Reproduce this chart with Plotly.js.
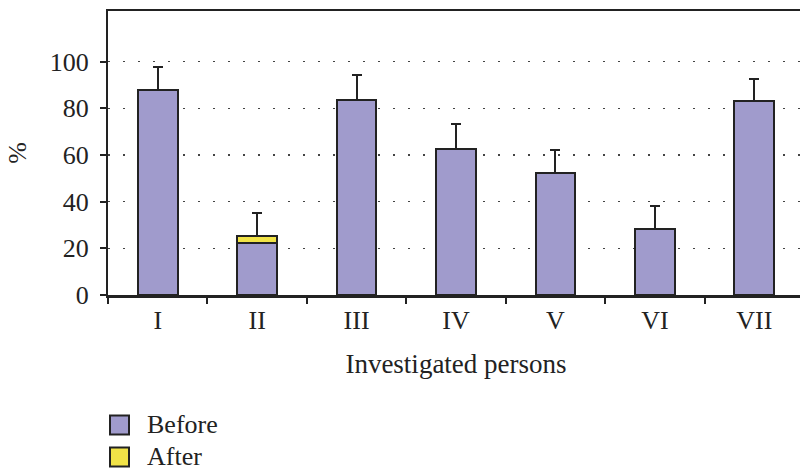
<!DOCTYPE html>
<html>
<head>
<meta charset="utf-8">
<script src="https://cdn.plot.ly/plotly-3.0.1.min.js"></script>
<style>
html,body{margin:0;padding:0;overflow:hidden;background:#fff;}
#chart{width:810px;height:473px;}
</style>
</head>
<body>
<div id="chart"></div>
<script>
var categories = ["I", "II", "III", "IV", "V", "VI", "VII"];
var beforeValues = [87.8, 22.1, 83.4, 62.6, 52.4, 28.1, 83.0];
var afterValues = [null, 3.3, null, null, null, null, null];
var beforeErrors = [10.0, NaN, 10.8, 10.7, 9.7, 10.2, 9.6];
var afterErrors = [NaN, 9.6, NaN, NaN, NaN, NaN, NaN];
var legendLabels = ["Before", "After"];

var purple = "#a09bcc";
var yellow = "#f1e347";
var edge = "#222222";
var fontFam = "Liberation Serif, DejaVu Serif, serif";

var errStyle = {type: "data", symmetric: false, arrayminus: categories.map(function(){return 0;}),
  color: edge, thickness: 2, width: 5};

var traces = [
  {type: "bar", name: legendLabels[0], x: categories, y: beforeValues,
   marker: {color: purple, line: {color: edge, width: 2}},
   error_y: Object.assign({}, errStyle, {array: beforeErrors}),
   width: 0.4, showlegend: false, hoverinfo: "y"},
  {type: "bar", name: legendLabels[1], x: categories, y: afterValues,
   marker: {color: yellow, line: {color: edge, width: 2}},
   error_y: Object.assign({}, errStyle, {array: afterErrors}),
   width: 0.4, showlegend: false, hoverinfo: "y"}
];

var L = 108, R = 804, T = 11, B = 295;
function px(x){ return (x - L) / (R - L); }
function py(y){ return (B - y) / (B - T); }

var shapes = [], annotations = [];
var legendColors = [purple, yellow];
var legendY = [425, 457];
for (var i = 0; i < legendLabels.length; i++) {
  shapes.push({type: "rect", xref: "paper", yref: "paper",
    x0: px(110), x1: px(129), y0: py(legendY[i] - 9.5), y1: py(legendY[i] + 9.5),
    fillcolor: legendColors[i], line: {color: edge, width: 2}});
  annotations.push({xref: "paper", yref: "paper", x: px(145), y: py(legendY[i] - 1),
    xanchor: "left", yanchor: "middle", showarrow: false, text: legendLabels[i],
    font: {family: fontFam, size: 26, color: "#222"}});
}

var layout = {
  width: 810, height: 473,
  margin: {l: L, r: 810 - R, t: T, b: 473 - B, pad: 0},
  paper_bgcolor: "#fff", plot_bgcolor: "#fff",
  barmode: "stack",
  showlegend: false,
  font: {family: fontFam, size: 25, color: "#222"},
  xaxis: {
    type: "category",
    showline: true, linecolor: edge, linewidth: 2.5, mirror: true,
    ticks: "outside", tickson: "boundaries", ticklen: 6, tickwidth: 2, tickcolor: edge,
    showgrid: false, zeroline: false,
    tickfont: {family: fontFam, size: 26, color: "#222"},
    title: {text: "Investigated persons", font: {family: fontFam, size: 27, color: "#222"}, standoff: 21}
  },
  yaxis: {
    range: [0, 121.7], tickvals: [0, 20, 40, 60, 80, 100],
    showline: true, linecolor: edge, linewidth: 2,
    ticks: "outside", ticklen: 6, tickwidth: 2, tickcolor: edge,
    showgrid: true, gridcolor: "#444", gridwidth: 1.5, griddash: "2px,13px",
    zeroline: false,
    tickfont: {family: fontFam, size: 26, color: "#222"},
    ticklabelstandoff: 6,
    title: {text: "%", font: {family: fontFam, size: 26, color: "#222"}, standoff: 16}
  },
  shapes: shapes,
  annotations: annotations
};

Plotly.newPlot("chart", traces, layout, {displayModeBar: false, staticPlot: true});
</script>
</body>
</html>
